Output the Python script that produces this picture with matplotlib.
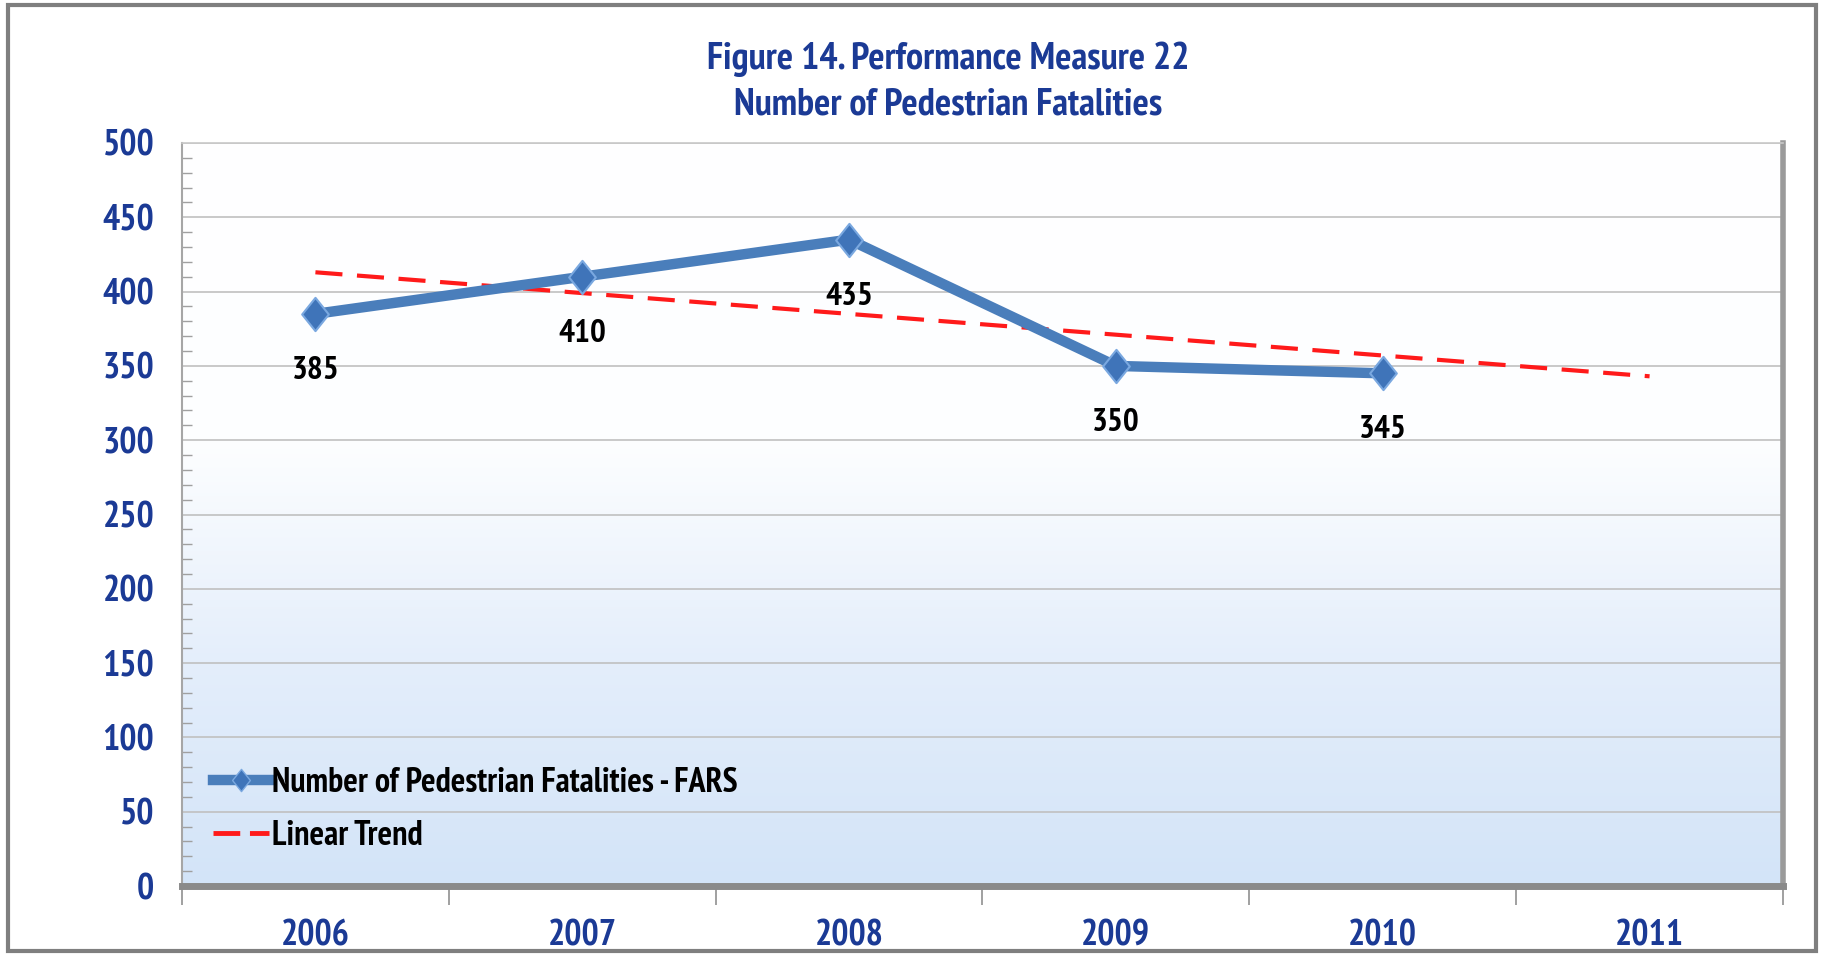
import numpy as np
import matplotlib
matplotlib.use("Agg")
import matplotlib.pyplot as plt
from matplotlib import font_manager
from matplotlib.patches import Rectangle
from matplotlib.colors import LinearSegmentedColormap
from matplotlib.lines import Line2D
from matplotlib.path import Path

# ---- data ----
years = ["2006", "2007", "2008", "2009", "2010", "2011"]
fatalities = [385, 410, 435, 350, 345]
trend = [413, 399, 385, 371, 357, 343]
y_ticks = [0, 50, 100, 150, 200, 250, 300, 350, 400, 450, 500]
title_lines = ["Figure 14. Performance Measure 22", "Number of Pedestrian Fatalities"]
series_label = "Number of Pedestrian Fatalities - FARS"
trend_label = "Linear Trend"

names = {f.name for f in font_manager.fontManager.ttflist}
FONT = "Liberation Sans"
for cand in ["PT Sans Narrow", "Pragati Narrow", "Barlow Condensed", "Liberation Sans"]:
    if cand in names:
        FONT = cand
        break
FAM = [FONT, "DejaVu Sans"]
plt.rcParams["font.family"] = FAM

BLUE_TXT = "#1b3a95"

fig = plt.figure(figsize=(18.21, 9.55), dpi=100)
fig.patch.set_facecolor("white")

# outer frame
fig.patches.append(Rectangle((8/1821, 1-951/955), (1816-8)/1821, (951-5)/955,
                             transform=fig.transFigure, fill=False,
                             edgecolor="#7f7f7f", lw=3, zorder=0))

ax = fig.add_axes([182/1821, 1-886/955, (1783-182)/1821, (886-143)/955])

# gradient background
cmap = LinearSegmentedColormap.from_list("bg", [(0, "#d3e4f8"), (0.3, "#e4eefb"), (0.6, "#fdfeff"), (1, "#ffffff")])
grad = np.linspace(0, 1, 256).reshape(-1, 1)
ax.imshow(grad, extent=[0, 1, 0, 1], transform=ax.transAxes, origin="lower",
          cmap=cmap, aspect="auto", zorder=0)

x = np.arange(len(years))
ax.set_xlim(-0.5, len(years) - 0.5)
ax.set_ylim(0, 500)

# grid
ax.set_yticks(y_ticks)
ax.set_yticks(np.arange(0, 501, 10), minor=True)
ax.yaxis.grid(True, which="major", color="#c0c0c0", lw=1.2, zorder=1)
ax.set_axisbelow(True)

# diamond marker (slightly taller than wide)
diamond = Path([(0, 1), (0.8, 0), (0, -1), (-0.8, 0), (0, 1)],
               [Path.MOVETO, Path.LINETO, Path.LINETO, Path.LINETO, Path.CLOSEPOLY])

# trend line
ax.plot(x, trend, color="#ff1a1a", lw=3, dashes=(6.5, 3.5), zorder=3)
# main series
xs = x[:len(fatalities)]
ax.plot(xs, fatalities, color="#4a7ebb", lw=7.5, zorder=4)
ax.plot(xs, fatalities, ls="none", marker=diamond, markersize=24, markerfacecolor="#3f74b9",
        markeredgecolor="#7aa8e0", markeredgewidth=1.5, zorder=5)

for xi, v in zip(xs, fatalities):
    ax.annotate(str(v), (xi, v), xytext=(0, -41), textcoords="offset points",
                ha="center", va="center", fontsize=24, fontweight="bold", color="black", zorder=6)

# ticks
ax.tick_params(axis="y", which="major", length=0, pad=20, labelsize=26, labelcolor=BLUE_TXT)
ax.tick_params(axis="y", which="minor", direction="in", length=7, color="#a0a0a0", width=1)
for lab in ax.get_yticklabels():
    lab.set_fontweight("bold")

ax.set_xticks(x)
ax.set_xticklabels(years, fontsize=26, fontweight="bold", color=BLUE_TXT)
ax.tick_params(axis="x", which="major", length=0, pad=24)
ax.set_xticks(np.arange(-0.5, len(years), 1), minor=True)
ax.tick_params(axis="x", which="minor", direction="out", length=14, color="#909090", width=1.2)

ax.spines["top"].set_color("#c8c8c8")
ax.spines["top"].set_linewidth(1.2)
ax.spines["left"].set_color("#a6a6a6")
ax.spines["left"].set_linewidth(1.5)
ax.spines["right"].set_color("#9a9a9a")
ax.spines["right"].set_linewidth(4)
ax.spines["bottom"].set_color("#8a8a8a")
ax.spines["bottom"].set_linewidth(5)

# legend
handles = [
    Line2D([0], [0], color="#4a7ebb", lw=7.5, marker=diamond, markersize=16,
           markerfacecolor="#3f74b9", markeredgecolor="#7aa8e0"),
    Line2D([0], [0], color="#ff1a1a", lw=3.5, dashes=(5.5, 2.0)),
]
leg = ax.legend(handles, [series_label, trend_label], loc="lower left",
                bbox_to_anchor=(0.0, 0.005), frameon=False, handlelength=1.65,
                handletextpad=0.1, labelspacing=0.6,
                prop={"family": FAM, "size": 24.5, "weight": "bold"})

# title
fig.text(948/1821, 1-59/955, title_lines[0], ha="center", va="center",
         fontsize=27.5, fontweight="bold", color=BLUE_TXT)
fig.text(948/1821, 1-105/955, title_lines[1], ha="center", va="center",
         fontsize=27.5, fontweight="bold", color=BLUE_TXT)

fig.savefig("out.png", dpi=100, facecolor="white")
